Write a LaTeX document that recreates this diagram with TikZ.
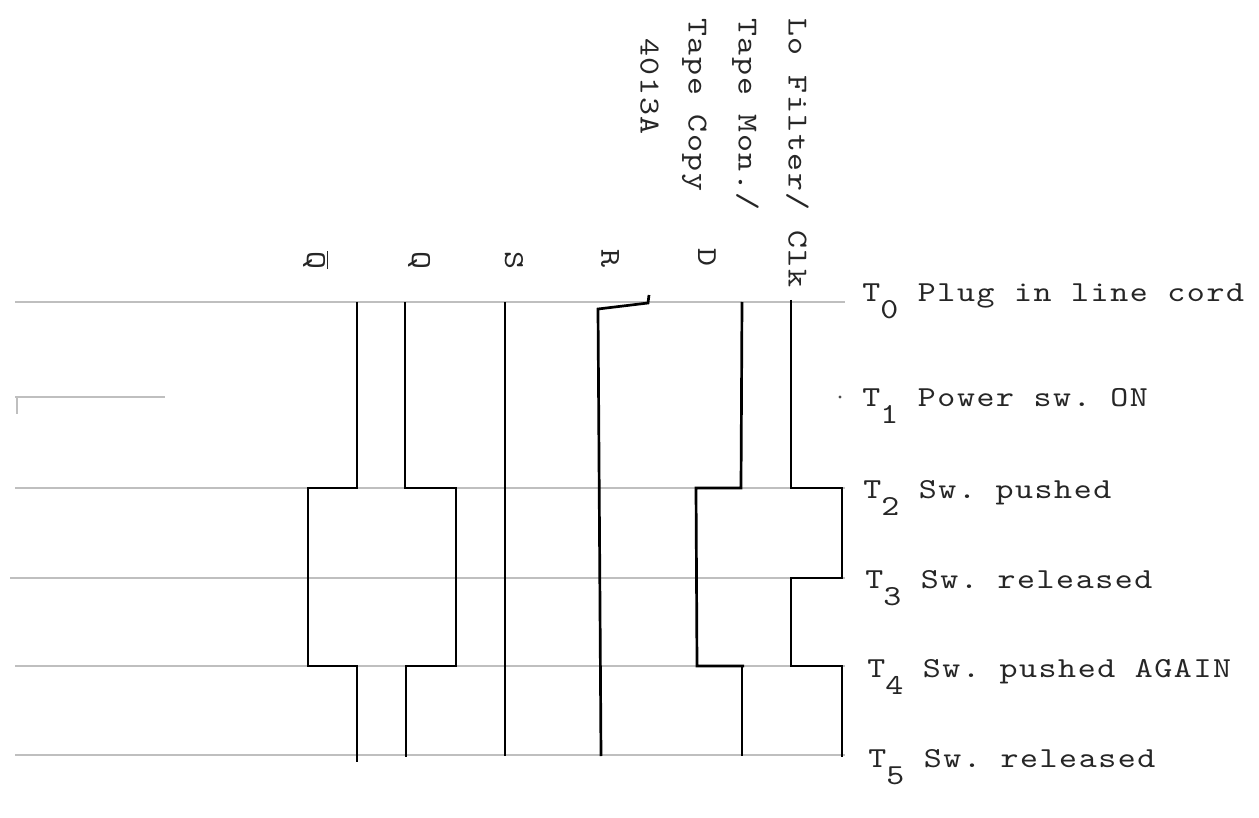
\documentclass[tikz,border=0pt]{standalone}
\usepackage{fontspec}
\setmonofont{lmmono10-regular.otf}[FakeStretch=1.18, LetterSpace=5.5]
\begin{document}
\begin{tikzpicture}[x=0.5pt,y=-0.5pt,
  tw/.style={font=\ttfamily\fontsize{14.5pt}{18pt}\selectfont, inner sep=0pt, text=black!85},
  gridline/.style={draw=gray!50, line width=0.6pt},
  sig/.style={draw=black, line width=1.35pt, line join=miter}]
\useasboundingbox[fill=white] (0,0) rectangle (1259,818);
% time grid lines
\coordinate (g0a) at (15,302);  \coordinate (g0b) at (845,302);
\coordinate (g1a) at (15,397);  \coordinate (g1b) at (165,397);
\coordinate (g2a) at (15,488);  \coordinate (g2b) at (845,488);
\coordinate (g3a) at (10,578);  \coordinate (g3b) at (845,578);
\coordinate (g4a) at (15,666);  \coordinate (g4b) at (845,666);
\coordinate (g5a) at (15,755);  \coordinate (g5b) at (845,755);
\draw[gridline] (g0a) -- (g0b);
\draw[gridline] (g1a) -- (g1b);
\draw[gridline] (17,397) -- (17,414);
\fill[black!70] (840,397) circle (1.6);
\draw[gridline] (g2a) -- (g2b);
\draw[gridline] (g3a) -- (g3b);
\draw[gridline] (g4a) -- (g4b);
\draw[gridline] (g5a) -- (g5b);
% signals
% Q bar
\draw[sig] (357,302) -- (357,488) -- (308,488) -- (308,666) -- (357,666) -- (357,762);
% Q
\draw[sig] (405,302) -- (405,488) -- (456,488) -- (456,666) -- (406,666) -- (406,757);
% S
\draw[sig] (505,302) -- (505,756);
% R
\draw[sig] (649,295) -- (648,303) -- (598,309) -- (601,756);
% D
\draw[sig] (742,302) -- (741,488) -- (696,488) -- (697,666) -- (744,666);
\draw[sig] (742,666) -- (742,756);
% Clk
\draw[sig] (791,300) -- (791,488) -- (842,488) -- (842,578) -- (791,578) -- (791,666) -- (842,666) -- (842,757);
% top rotated labels
\node[tw, rotate=-90, anchor=mid west] (lf) at (793,18) {Lo Filter/ Clk};
\node[tw, rotate=-90, anchor=mid west] (tm) at (743,18) {Tape Mon./};
\node[tw, rotate=-90, anchor=mid west] (tc) at (693,18) {Tape Copy};
\node[tw, rotate=-90, anchor=mid west] (ic) at (645,38) {4013A};
% signal names
\node[tw, rotate=-90] (nqb) at (316,260) {$\overline{\hbox{Q}}$};
\node[tw, rotate=-90] (nq) at (419,260) {Q};
\node[tw, rotate=-90] (ns) at (514,260) {S};
\node[tw, rotate=-90] (nr) at (610,258) {R};
\node[tw, rotate=-90] (nd) at (707,257) {D};
% time labels
\node[tw, anchor=base west] (t0) at (862,302) {T\raisebox{-8.5pt}{0} Plug in line cord};
\node[tw, anchor=base west] (t1) at (862,407) {T\raisebox{-8.5pt}{1} Power sw. ON};
\node[tw, anchor=base west] (t2) at (863,498) {T\raisebox{-8.5pt}{2} Sw. pushed};
\node[tw, anchor=base west] (t3) at (865,588) {T\raisebox{-8.5pt}{3} Sw. released};
\node[tw, anchor=base west] (t4) at (867,677) {T\raisebox{-8.5pt}{4} Sw. pushed AGAIN};
\node[tw, anchor=base west] (t5) at (868,767) {T\raisebox{-8.5pt}{5} Sw. released};
\end{tikzpicture}
\end{document}
